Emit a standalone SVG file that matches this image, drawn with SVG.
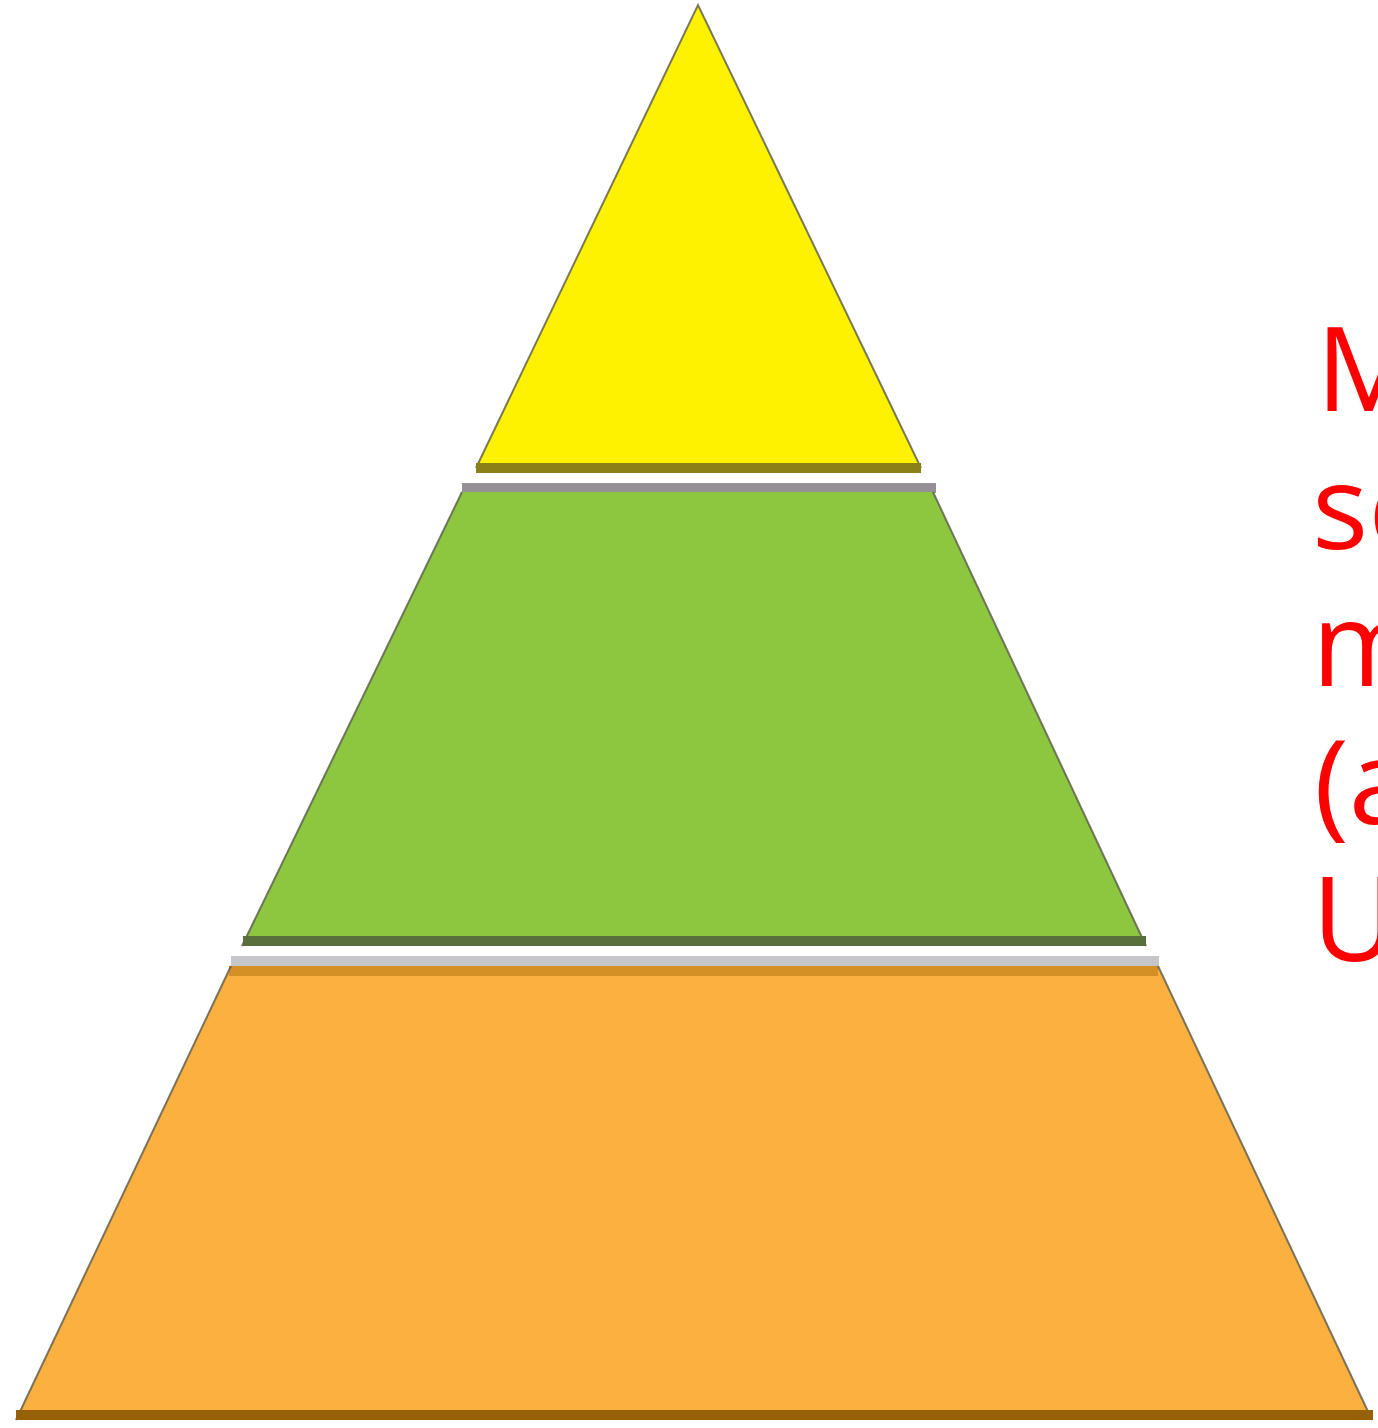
<svg xmlns="http://www.w3.org/2000/svg" width="1378" height="1428" viewBox="0 0 1378 1428">
<style>
.edge{stroke:#5a5a4a;stroke-width:2;stroke-opacity:0.8;fill:none}
.lbl{font-family:"Open Sans","Noto Sans",sans-serif;font-size:118px;fill:#FF0000}
</style>
<rect width="1378" height="1428" fill="#ffffff"/>
<g id="tier-top">
<polygon points="698,5 921,468 476,468" fill="#FFF200"/>
<path class="edge" d="M476,468 L698,5 L921,468"/>
<rect x="476" y="463" width="445" height="10" fill="#8B7F18"/>
</g>
<g id="tier-middle">
<rect x="462" y="483" width="474" height="10" fill="#958F96"/>
<polygon points="462,492 933,492 1146,946 242,946" fill="#8DC63F"/>
<path class="edge" d="M242,946 L462,492 M933,492 L1146,946"/>
<rect x="243" y="936" width="903" height="10" fill="#5A703C"/>
</g>
<g id="tier-bottom">
<rect x="231" y="956" width="928" height="10" fill="#C4C6C9"/>
<polygon points="231,966 1158,966 1372,1420 16,1420" fill="#FCB040"/>
<rect x="229" y="966" width="929" height="10" fill="#D48F25"/>
<path class="edge" d="M16,1420 L231,966 M1158,966 L1372,1420"/>
<rect x="16" y="1410" width="1357" height="10" fill="#966108"/>
</g>
<g id="connectors"></g>
<g id="label">
<text class="lbl" y="411"><tspan x="1316">M</tspan><tspan x="1312" dy="137.5">sc</tspan><tspan x="1312" dy="137.5">m</tspan><tspan x="1314" dy="137.5">(a</tspan><tspan x="1312" dy="137.5">U</tspan></text>
</g>
</svg>
